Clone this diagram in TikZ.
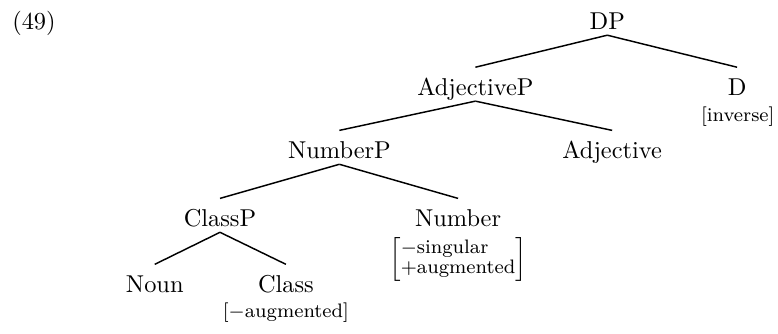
\documentclass[tikz,border=0pt]{standalone}
\begin{document}
\begin{tikzpicture}[
  cat/.style={anchor=base, inner sep=0pt, text height=11.5pt, text depth=2pt},
  feat/.style={anchor=north, inner sep=0pt, font=\footnotesize},
  branch/.style={line width=0.6pt}]
  \useasboundingbox (0,0) rectangle (11.21,4.80);
  \node[anchor=base west, inner sep=0pt] (ex) at (0.17,4.37) {(49)};
  % categories
  \node[cat] (DP) at (8.75,4.37) {DP};
  \node[cat] (AP) at (6.85,3.42) {AdjectiveP};
  \node[cat] (D) at (10.62,3.42) {D};
  \node[cat] (NumP) at (4.89,2.51) {NumberP};
  \node[cat] (Adj) at (8.82,2.51) {Adjective};
  \node[cat] (ClP) at (3.17,1.53) {ClassP};
  \node[cat] (Num) at (6.60,1.53) {Number};
  \node[cat] (N) at (2.23,0.58) {Noun};
  \node[cat] (Cl) at (4.12,0.58) {Class};
  % features
  \node[feat] (Dfeat) at (10.63,3.26) {[inverse]};
  \node[feat] (Numfeat) at (6.60,1.38) {$\renewcommand{\arraystretch}{0.87}\left[\begin{tabular}{@{}l@{}}$-$singular\\ $+$augmented\end{tabular}\right]$};
  \node[feat] (Clfeat) at (4.12,0.45) {[$-$augmented]};
  % branches
  \draw[branch] (DP.south) -- (AP.north);
  \draw[branch] (DP.south) -- (D.north);
  \draw[branch] (AP.south) -- (NumP.north);
  \draw[branch] (AP.south) -- (Adj.north);
  \draw[branch] (NumP.south) -- (ClP.north);
  \draw[branch] (NumP.south) -- (Num.north);
  \draw[branch] (ClP.south) -- (N.north);
  \draw[branch] (ClP.south) -- (Cl.north);
\end{tikzpicture}
\end{document}
